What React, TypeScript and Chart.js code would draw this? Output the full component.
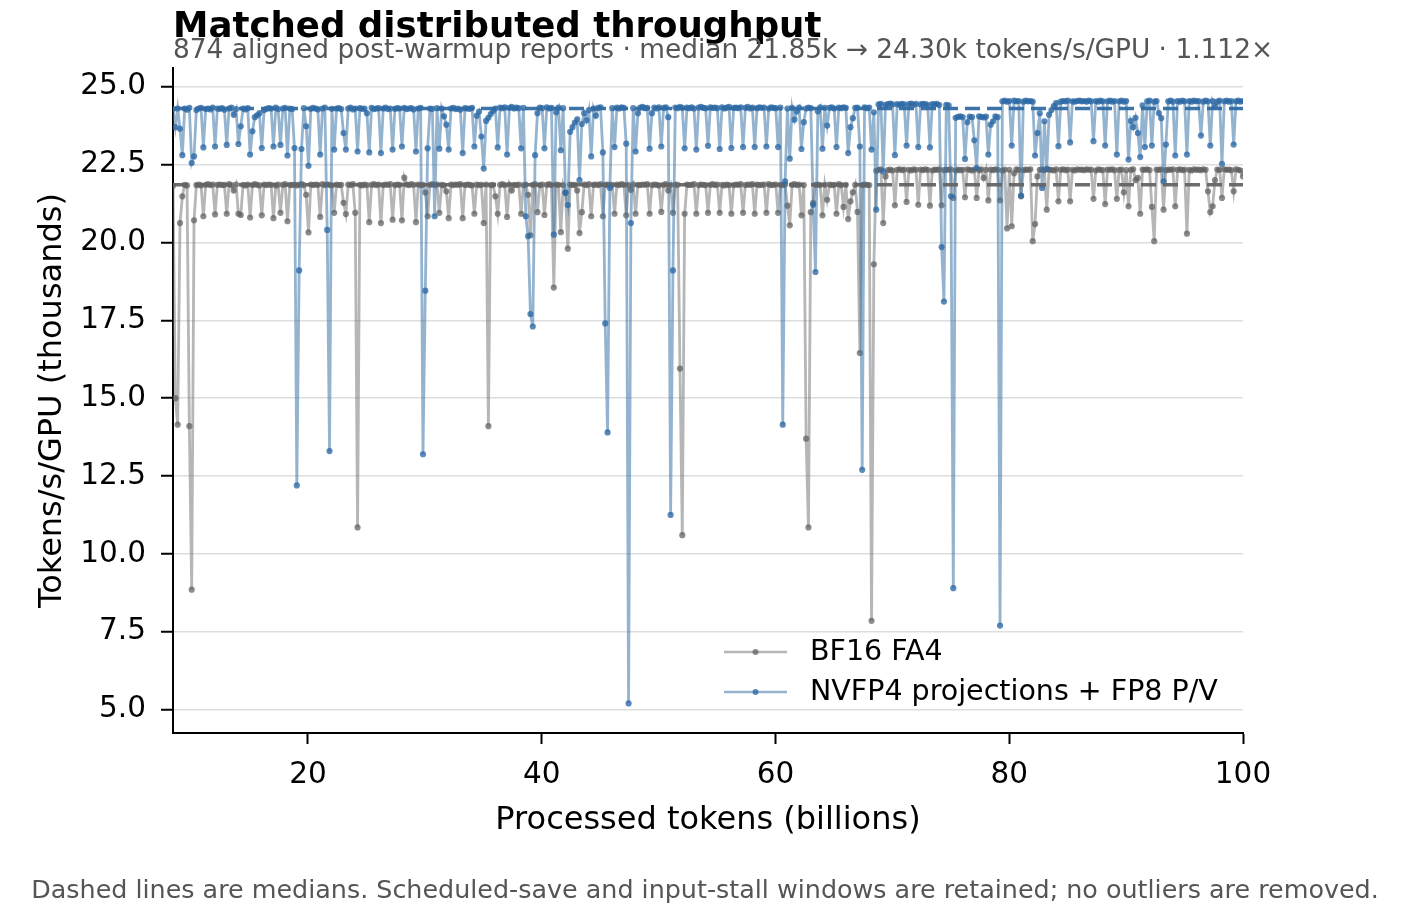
import { useEffect, useRef } from "react";
import { Chart, registerables } from "chart.js";

Chart.register(...registerables);

// ---------- data (tokens/s/GPU in thousands; one value per aligned report, evenly spaced in tokens) ----------
const TOKEN_START = 8.45; // billions
const TOKEN_END = 100; // billions

const BF16_MEDIAN = 21.85;
const NVFP4_MEDIAN = 24.3;

const Y_TICKS = [5, 7.5, 10, 12.5, 15, 17.5, 20, 22.5, 25];
const X_TICKS = [20, 40, 60, 80, 100];

const SERIES_LABELS = ["BF16 FA4", "NVFP4 projections + FP8 P/V"];

const TITLE = "Matched distributed throughput";
const SUBTITLE = "874 aligned post-warmup reports · median 21.85k → 24.30k tokens/s/GPU · 1.112×";
const FOOTNOTE = "Dashed lines are medians. Scheduled-save and input-stall windows are retained; no outliers are removed.";
const X_LABEL = "Processed tokens (billions)";
const Y_LABEL = "Tokens/s/GPU (thousands)";

const BF16_FA4 = [
  21.82, 15.0, 14.15, 20.62, 21.48, 21.85, 21.83, 14.1, 8.85, 20.71,
  21.84, 21.86, 21.83, 20.84, 21.85, 21.87, 21.84, 21.86, 20.9, 21.85,
  21.86, 21.84, 21.85, 20.92, 21.87, 21.84, 21.67, 21.86, 20.92, 20.88,
  21.85, 21.83, 21.86, 20.8, 21.84, 21.87, 21.85, 21.83, 20.87, 21.86,
  21.84, 21.86, 21.85, 20.78, 21.83, 21.86, 20.95, 21.85, 21.87, 20.68,
  21.85, 21.84, 21.86, 21.83, 21.85, 21.87, 21.84, 21.53, 20.32, 21.86,
  21.84, 21.86, 21.85, 20.82, 21.87, 21.84, 21.86, 21.85, 21.83, 20.95,
  21.86, 21.84, 21.85, 21.27, 20.91, 21.86, 21.84, 21.87, 20.95, 10.85,
  21.85, 21.83, 21.86, 21.84, 20.65, 21.85, 21.87, 21.84, 21.86, 20.62,
  21.84, 21.86, 21.85, 21.87, 20.73, 21.84, 21.86, 21.85, 20.71, 22.08,
  21.86, 21.84, 21.87, 21.85, 20.65, 21.86, 21.84, 21.85, 21.6, 20.84,
  21.85, 21.87, 21.84, 21.86, 20.95, 21.85, 21.83, 21.64, 20.78, 21.86,
  21.84, 21.86, 21.85, 21.87, 20.78, 21.84, 21.86, 21.85, 21.83, 20.92,
  21.86, 21.84, 21.85, 20.62, 21.86, 14.1, 21.84, 21.85, 21.48, 20.92,
  21.85, 21.87, 21.84, 20.82, 21.86, 21.67, 21.85, 21.84, 21.86, 20.92,
  21.84, 21.86, 21.53, 20.23, 21.85, 21.87, 20.97, 21.84, 21.86, 20.88,
  21.85, 21.87, 21.84, 18.55, 21.86, 21.85, 20.33, 21.84, 21.59, 19.8,
  21.86, 21.84, 21.85, 21.67, 20.3, 20.97, 21.86, 21.84, 21.87, 20.84,
  21.85, 21.86, 21.84, 21.87, 20.84, 21.85, 21.86, 21.84, 21.85, 20.92,
  21.86, 21.84, 21.87, 21.85, 20.87, 21.84, 21.69, 21.86, 20.92, 21.85,
  21.84, 21.86, 21.85, 21.87, 20.92, 21.84, 21.86, 21.85, 21.83, 20.98,
  21.85, 21.87, 21.67, 21.84, 20.95, 21.86, 21.85, 15.95, 10.6, 20.92,
  21.86, 21.84, 21.85, 21.87, 20.92, 21.84, 21.86, 21.85, 21.84, 20.95,
  21.85, 21.87, 21.84, 21.86, 20.95, 21.85, 21.83, 21.86, 21.84, 20.92,
  21.84, 21.86, 21.85, 21.87, 20.95, 21.84, 21.86, 21.85, 21.87, 20.92,
  21.86, 21.84, 21.85, 21.86, 20.95, 21.87, 21.84, 21.85, 21.86, 20.95,
  21.85, 21.84, 21.86, 21.18, 20.55, 21.85, 21.87, 21.84, 21.86, 20.87,
  21.84, 13.7, 10.85, 20.97, 21.27, 21.85, 21.86, 21.84, 20.87, 21.85,
  21.37, 21.86, 21.84, 21.85, 20.92, 21.87, 21.84, 21.14, 21.85, 20.75,
  21.32, 21.61, 21.85, 20.98, 16.45, 21.84, 21.86, 21.85, 21.84, 7.85,
  19.3, 22.3, 22.33, 22.35, 20.62, 22.12, 22.32, 22.34, 22.31, 21.19,
  22.33, 22.35, 22.32, 22.34, 21.3, 22.33, 22.31, 22.35, 22.33, 21.21,
  22.34, 22.32, 22.35, 22.33, 21.18, 22.31, 22.34, 22.33, 22.35, 21.19,
  22.32, 22.34, 22.33, 22.35, 21.43, 22.31, 22.34, 22.32, 22.33, 21.45,
  22.35, 22.33, 22.31, 22.34, 21.43, 22.32, 22.35, 22.07, 22.33, 21.35,
  22.34, 22.32, 22.35, 22.33, 21.35, 22.31, 22.34, 20.45, 22.33, 20.52,
  22.22, 22.35, 22.33, 21.48, 22.32, 22.34, 22.33, 22.35, 20.04, 20.59,
  22.12, 22.33, 22.35, 22.32, 21.05, 22.34, 22.33, 22.31, 22.35, 21.32,
  22.33, 22.35, 22.32, 22.34, 21.32, 22.33, 22.31, 22.35, 22.33, 22.34,
  22.32, 22.35, 22.33, 22.34, 21.4, 22.31, 22.35, 22.33, 22.32, 21.23,
  22.34, 22.33, 22.35, 22.32, 21.4, 22.33, 22.34, 21.61, 22.32, 21.16,
  22.33, 22.35, 22.0, 22.07, 20.92, 22.34, 22.33, 22.35, 22.32, 21.14,
  20.04, 22.34, 22.33, 22.35, 21.05, 22.32, 22.34, 22.33, 22.35, 21.16,
  22.33, 22.35, 22.32, 22.34, 20.28, 22.33, 22.31, 22.35, 22.33, 22.34,
  22.32, 22.35, 22.33, 21.64, 20.97, 21.16, 22.0, 22.34, 22.33, 21.43,
  22.35, 22.33, 22.34, 22.32, 21.64, 22.35, 22.33, 22.31, 22.12,
];

const NVFP4_FP8 = [
  24.28, 23.7, 24.3, 23.65, 22.8, 24.3, 24.26, 24.32, 22.55, 22.76,
  24.25, 24.3, 24.32, 23.05, 24.28, 24.3, 24.27, 24.33, 23.08, 24.3,
  24.29, 24.31, 24.26, 23.13, 24.3, 24.33, 24.1, 24.28, 23.16, 23.73,
  24.3, 24.27, 24.31, 22.82, 23.57, 24.02, 24.08, 24.15, 23.03, 24.25,
  24.29, 24.31, 24.3, 23.08, 24.33, 24.28, 23.13, 24.3, 24.32, 22.79,
  24.3, 24.28, 23.03, 12.2, 19.1, 23.0, 24.31, 23.73, 22.46, 24.29,
  24.32, 24.3, 24.27, 22.82, 24.3, 24.33, 20.4, 13.3, 24.29, 22.98,
  24.3, 24.31, 24.28, 23.51, 22.98, 24.3, 24.33, 24.27, 24.3, 22.92,
  24.31, 24.29, 24.3, 24.15, 22.89, 24.32, 24.28, 24.3, 24.31, 22.87,
  24.3, 24.33, 24.28, 24.3, 22.98, 24.29, 24.31, 24.3, 23.08, 24.32,
  24.28, 24.3, 24.31, 24.27, 22.92, 24.3, 24.32, 13.2, 18.45, 23.02,
  24.3, 24.29, 20.84, 24.31, 23.01, 24.3, 24.05, 23.78, 22.98, 24.3,
  24.32, 24.28, 24.3, 24.26, 22.87, 24.31, 24.3, 24.29, 24.32, 23.08,
  24.07, 24.2, 23.4, 22.37, 23.9, 24.0, 24.12, 24.22, 24.3, 23.05,
  24.33, 24.31, 24.34, 22.82, 24.32, 24.35, 24.3, 24.33, 24.31, 23.02,
  24.32, 20.84, 20.2, 17.7, 17.3, 22.8, 24.15, 24.33, 24.31, 23.02,
  24.34, 24.3, 24.32, 20.25, 24.18, 24.33, 22.96, 24.31, 21.6, 21.2,
  23.55, 23.7, 23.85, 23.95, 22.0, 23.8, 24.15, 23.92, 24.25, 22.76,
  24.3, 24.07, 24.32, 24.34, 22.89, 17.4, 13.9, 21.75, 24.31, 23.06,
  24.33, 24.3, 24.34, 24.32, 23.17, 5.2, 20.62, 24.31, 22.92, 24.15,
  24.33, 24.35, 24.31, 24.32, 23.01, 24.15, 24.33, 24.3, 24.34, 23.08,
  24.32, 24.34, 24.02, 11.25, 19.1, 24.33, 24.31, 24.35, 24.32, 23.02,
  24.33, 24.31, 24.34, 24.3, 22.98, 24.33, 24.35, 24.32, 24.31, 23.1,
  24.34, 24.32, 24.33, 24.31, 23.0, 24.34, 24.3, 24.33, 24.35, 23.03,
  24.32, 24.33, 24.31, 24.34, 23.06, 24.32, 24.35, 24.3, 24.33, 23.06,
  24.31, 24.34, 24.32, 24.33, 23.08, 24.3, 24.34, 24.32, 24.31, 23.06,
  24.33, 14.15, 21.96, 24.3, 22.69, 24.32, 23.94, 24.21, 24.33, 23.0,
  23.86, 24.3, 24.33, 24.31, 21.21, 19.05, 24.21, 24.34, 23.01, 24.32,
  23.75, 24.32, 24.34, 24.3, 23.06, 24.33, 24.31, 24.34, 24.32, 22.87,
  23.7, 23.99, 24.32, 24.33, 23.08, 12.7, 24.34, 24.31, 24.33, 22.98,
  24.18, 21.05, 24.43, 24.45, 22.28, 24.42, 24.44, 24.46, 24.43, 22.8,
  24.44, 24.42, 24.45, 24.43, 23.11, 24.44, 24.46, 24.42, 24.45, 23.06,
  24.43, 24.45, 24.44, 24.42, 23.05, 24.44, 24.43, 24.45, 24.41, 19.85,
  18.1, 24.42, 24.4, 21.48, 8.9, 24.0, 24.03, 24.05, 24.02, 22.68,
  23.86, 24.04, 24.02, 23.28, 22.39, 24.05, 24.03, 24.01, 24.04, 22.82,
  23.78, 23.89, 24.05, 24.02, 7.7, 24.53, 24.55, 24.52, 24.54, 23.11,
  24.55, 24.53, 24.54, 21.5, 24.52, 24.55, 24.53, 24.54, 24.52, 22.79,
  23.51, 24.15, 21.75, 23.89, 22.36, 24.1, 24.25, 24.38, 24.47, 23.09,
  24.52, 24.54, 24.53, 24.55, 23.21, 24.53, 24.52, 24.54, 24.55, 24.53,
  24.54, 24.52, 24.55, 24.53, 23.25, 24.54, 24.52, 24.55, 24.53, 23.11,
  24.53, 24.55, 24.52, 24.54, 22.82, 24.53, 24.55, 24.52, 24.54, 22.66,
  23.9, 23.7, 24.0, 23.51, 22.74, 24.4, 23.06, 24.53, 24.55, 23.11,
  24.52, 24.54, 24.15, 23.99, 21.96, 23.14, 24.53, 24.55, 24.52, 22.79,
  24.54, 24.52, 24.55, 24.53, 22.82, 24.54, 24.52, 24.55, 24.53, 24.54,
  23.43, 24.52, 24.55, 24.53, 23.11, 24.54, 24.37, 24.52, 24.55, 22.52,
  24.53, 24.55, 24.52, 24.54, 23.14, 24.53, 24.55, 24.52, 24.54,
];

// ---------- styling ----------
const FONT = "'DejaVu Sans', 'Liberation Sans', sans-serif";
const GRAY_LINE = "rgba(110,110,110,0.5)";
const GRAY_POINT = "rgba(95,95,95,0.72)";
const BLUE_LINE = "rgba(59,116,168,0.55)";
const BLUE_POINT = "rgba(45,105,165,0.78)";
const GRAY_DASH = "rgba(100,100,100,0.95)";
const BLUE_DASH = "rgba(50,108,163,0.95)";

function toPoints(values: number[]) {
  const n = values.length;
  const step = (TOKEN_END - TOKEN_START) / (n - 1);
  return values.map((y, i) => ({ x: TOKEN_START + i * step, y }));
}

const decorPlugin = {
  id: "decor",
  afterDraw(chart: any) {
    const { ctx, chartArea } = chart;
    ctx.save();
    // title
    ctx.fillStyle = "#000";
    ctx.font = `bold 35.6px ${FONT}`;
    ctx.textAlign = "left";
    ctx.textBaseline = "alphabetic";
    ctx.fillText(TITLE, chartArea.left, 37);
    // subtitle
    ctx.fillStyle = "#555";
    ctx.font = `26.4px ${FONT}`;
    ctx.fillText(SUBTITLE, chartArea.left, 58);
    // x label
    ctx.fillStyle = "#000";
    ctx.font = `32px ${FONT}`;
    ctx.textAlign = "center";
    ctx.fillText(X_LABEL, (chartArea.left + chartArea.right) / 2, 829);
    // y label
    ctx.save();
    ctx.translate(61, (chartArea.top + chartArea.bottom) / 2);
    ctx.rotate(-Math.PI / 2);
    ctx.fillText(Y_LABEL, 0, 0);
    ctx.restore();
    // footnote
    ctx.fillStyle = "#555";
    ctx.font = `25.4px ${FONT}`;
    ctx.textAlign = "center";
    ctx.fillText(FOOTNOTE, 705, 898);
    // legend
    const items = [
      { label: SERIES_LABELS[0], line: GRAY_LINE, point: GRAY_POINT },
      { label: SERIES_LABELS[1], line: BLUE_LINE, point: BLUE_POINT },
    ];
    const lx = 724;
    const ly0 = 652;
    items.forEach((it, i) => {
      const y = ly0 + i * 40;
      ctx.strokeStyle = it.line;
      ctx.lineWidth = 2.5;
      ctx.beginPath();
      ctx.moveTo(lx, y);
      ctx.lineTo(lx + 63, y);
      ctx.stroke();
      ctx.fillStyle = it.point;
      ctx.beginPath();
      ctx.arc(lx + 31.5, y, 3, 0, Math.PI * 2);
      ctx.fill();
      ctx.fillStyle = "#000";
      ctx.font = `28.5px ${FONT}`;
      ctx.textAlign = "left";
      ctx.textBaseline = "middle";
      ctx.fillText(it.label, 810, y + 1);
    });
    ctx.restore();
  },
};

export default function App() {
  const ref = useRef<HTMLCanvasElement | null>(null);

  useEffect(() => {
    if (!ref.current) return;
    Chart.defaults.font.family = FONT;
    const chart = new Chart(ref.current, {
      type: "line",
      data: {
        datasets: [
          {
            label: "BF16 median",
            data: [
              { x: TOKEN_START, y: BF16_MEDIAN },
              { x: TOKEN_END, y: BF16_MEDIAN },
            ],
            borderColor: GRAY_DASH,
            borderWidth: 3.6,
            borderDash: [15, 7],
            pointRadius: 0,
            order: 0,
          },
          {
            label: "NVFP4 median",
            data: [
              { x: TOKEN_START, y: NVFP4_MEDIAN },
              { x: TOKEN_END, y: NVFP4_MEDIAN },
            ],
            borderColor: BLUE_DASH,
            borderWidth: 3.6,
            borderDash: [15, 7],
            pointRadius: 0,
            order: 0,
          },
          {
            label: SERIES_LABELS[1],
            data: toPoints(NVFP4_FP8),
            borderColor: BLUE_LINE,
            borderWidth: 2.8,
            pointRadius: 3.1,
            pointBorderWidth: 0,
            pointBackgroundColor: BLUE_POINT,
            tension: 0,
            order: 1,
          },
          {
            label: SERIES_LABELS[0],
            data: toPoints(BF16_FA4),
            borderColor: GRAY_LINE,
            borderWidth: 2.8,
            pointRadius: 3.1,
            pointBorderWidth: 0,
            pointBackgroundColor: GRAY_POINT,
            tension: 0,
            order: 2,
          },
        ],
      },
      options: {
        animation: false,
        responsive: false,
        events: [],
        layout: { padding: { left: 0, right: 176, top: 68, bottom: 0 } },
        plugins: {
          legend: { display: false },
          tooltip: { enabled: false },
          title: { display: false },
        },
        scales: {
          x: {
            type: "linear",
            min: TOKEN_START,
            max: TOKEN_END,
            afterFit: (s: any) => {
              s.height = 185;
            },
            afterBuildTicks: (s: any) => {
              s.ticks = X_TICKS.map((v) => ({ value: v }));
            },
            ticks: {
              color: "#000",
              font: { family: FONT, size: 29.5 },
              padding: 14,
              maxRotation: 0,
              callback: (v: any) => String(v),
            },
            grid: {
              drawOnChartArea: false,
              tickColor: "#000",
              tickLength: 11,
              tickWidth: 2,
            },
            border: { color: "#000", width: 2 },
          },
          y: {
            type: "linear",
            min: 4.25,
            max: 25.6,
            afterFit: (s: any) => {
              s.width = 173;
            },
            afterBuildTicks: (s: any) => {
              s.ticks = Y_TICKS.map((v) => ({ value: v }));
            },
            ticks: {
              color: "#000",
              font: { family: FONT, size: 29.5 },
              padding: 15,
              callback: (v: any) => Number(v).toFixed(1),
            },
            grid: {
              color: "#dddddd",
              lineWidth: 1.5,
              tickColor: "#000",
              tickLength: 12,
              tickWidth: 2,
            },
            border: { color: "#000", width: 2 },
          },
        },
      },
      plugins: [decorPlugin],
    });
    return () => chart.destroy();
  }, []);

  return (
    <div style={{ position: "fixed", left: 0, top: 0, width: 1419, height: 918, background: "#fff" }}>
      <canvas ref={ref} width={1419} height={918} style={{ width: 1419, height: 918 }} />
    </div>
  );
}
